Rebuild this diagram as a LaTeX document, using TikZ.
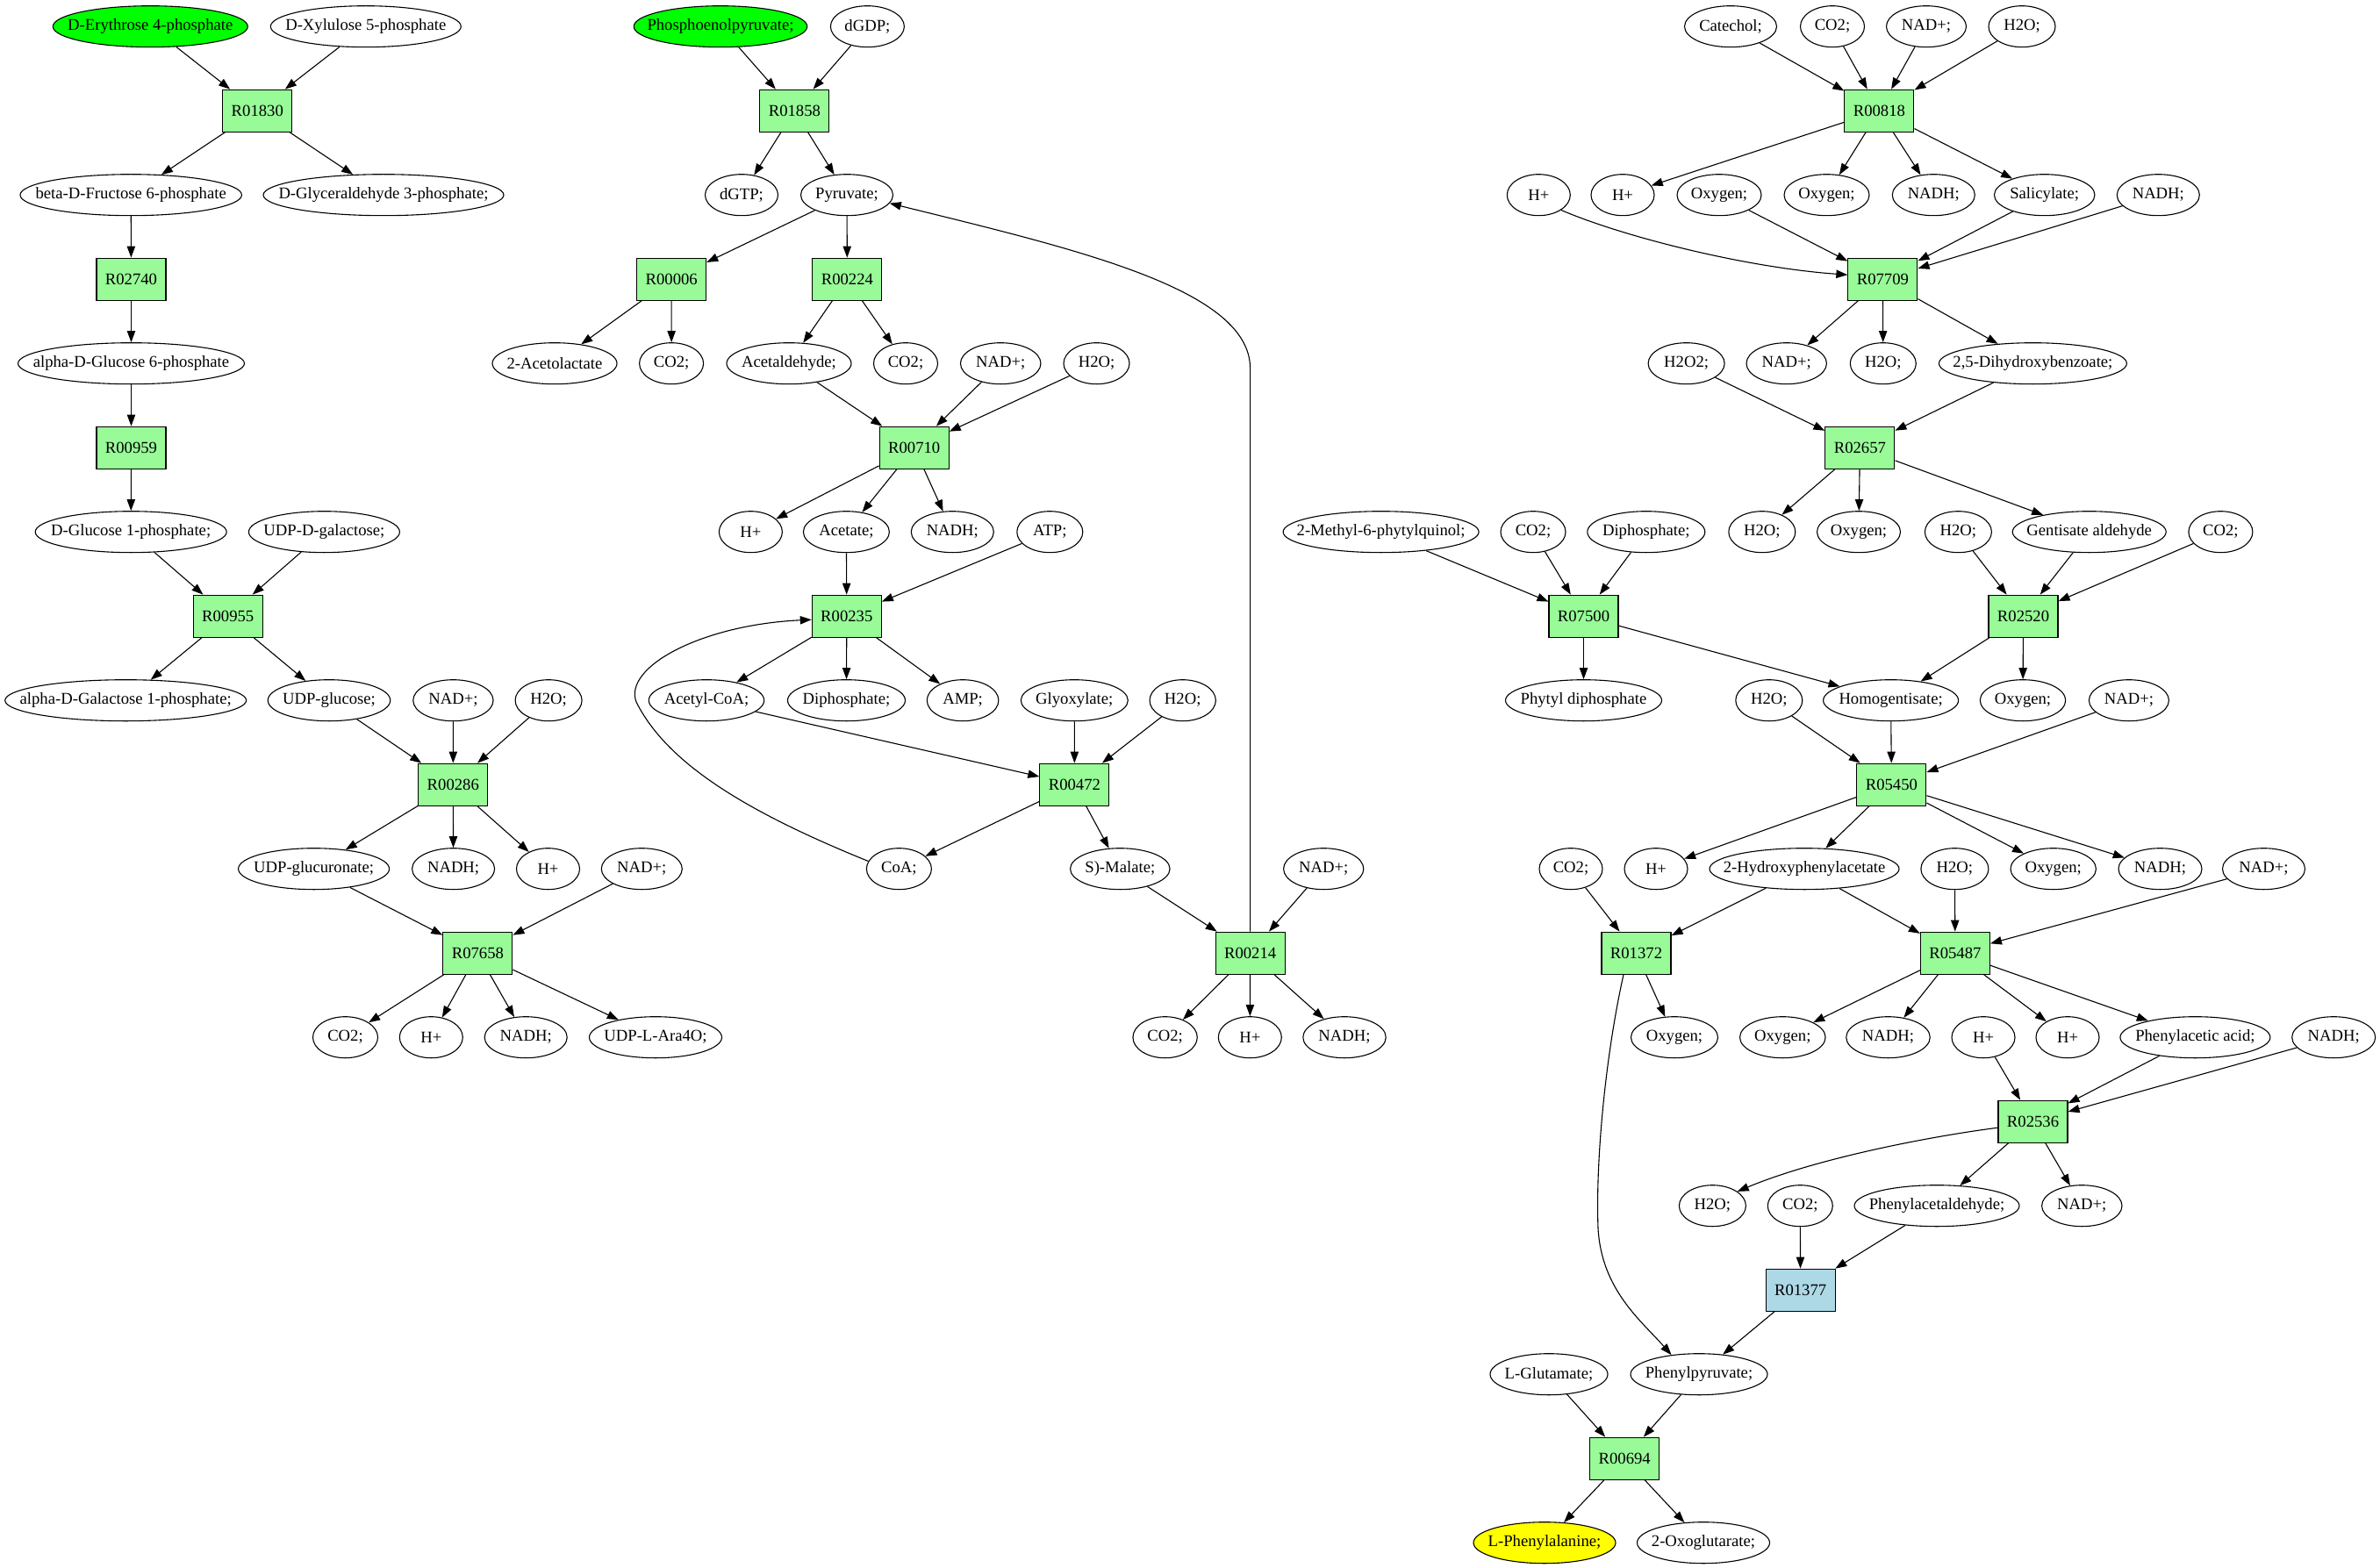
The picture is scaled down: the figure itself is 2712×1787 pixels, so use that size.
\documentclass[tikz,border=0pt]{standalone}
\usepackage{fontspec}
\setmainfont{Liberation Serif}
\usetikzlibrary{arrows.meta,shapes.geometric}
\newcommand{\zw}[1]{\makebox[0pt]{#1}}
\definecolor{rxngreen}{HTML}{98FB98}
\definecolor{srcgreen}{HTML}{00FF00}
\definecolor{tgtyellow}{HTML}{FFFF00}
\definecolor{rxnblue}{HTML}{ADD8E6}
\begin{document}
\begin{tikzpicture}[x=1pt,y=-1pt,
  font=\fontsize{18.67pt}{22pt}\selectfont,
  met/.style={ellipse,draw,line width=1.1pt,minimum height=47pt,inner sep=0pt},
  rxn/.style={rectangle,draw,line width=1.1pt,fill=rxngreen,minimum width=79pt,minimum height=48pt,inner sep=0pt},
  ar/.style={-{Triangle[length=13pt,width=9.3pt]},line width=1.1pt}]
\useasboundingbox (0,0) rectangle (2712,1787);
\fill[white] (0,0) rectangle (2712,1787);
% row 0
\node[met,minimum width=222pt,fill=srcgreen] (ery) at (171.3,30.2) {\zw{D-Erythrose 4-phosphate}};
\node[met,minimum width=217pt] (xyl) at (416.8,30.2) {\zw{D-Xylulose 5-phosphate}};
\node[met,minimum width=197.5pt,fill=srcgreen] (pep) at (821,30.2) {\zw{Phosphoenolpyruvate;}};
\node[met,minimum width=84pt] (dgdp) at (988.4,30.2) {\zw{dGDP;}};
\node[met,minimum width=105pt] (cat) at (1972,30.2) {\zw{Catechol;}};
\node[met,minimum width=73pt] (co2a) at (2088,30.2) {\zw{CO2;}};
\node[met,minimum width=91pt] (nada) at (2195,30.2) {\zw{NAD+;}};
\node[met,minimum width=76pt] (h2oa) at (2304,30.2) {\zw{H2O;}};
% row 1
\node[rxn] (R01830) at (293.3,126.2) {R01830};
\node[rxn] (R01858) at (905.4,126.2) {R01858};
\node[rxn] (R00818) at (2141.4,126.2) {R00818};
% row 2
\node[met,minimum width=252.5pt] (bfru) at (149.2,222.2) {\zw{beta-D-Fructose 6-phosphate}};
\node[met,minimum width=274pt] (gap) at (437,222.2) {\zw{D-Glyceraldehyde 3-phosphate;}};
\node[met,minimum width=83pt] (dgtp) at (845,222.2) {\zw{dGTP;}};
\node[met,minimum width=105pt] (pyr) at (965,222.2) {\zw{Pyruvate;}};
\node[met,minimum width=72pt] (hpa) at (1753.3,222.2) {\zw{H+}};
\node[met,minimum width=72pt] (hpb) at (1849,222.2) {\zw{H+}};
\node[met,minimum width=96pt] (oxa) at (1959,222.2) {\zw{Oxygen;}};
\node[met,minimum width=97pt] (oxb) at (2081.5,222.2) {\zw{Oxygen;}};
\node[met,minimum width=94pt] (nadha) at (2203.3,222.2) {\zw{NADH;}};
\node[met,minimum width=114.5pt] (sal) at (2329.7,222.2) {\zw{Salicylate;}};
\node[met,minimum width=94pt] (nadhb) at (2459.3,222.2) {\zw{NADH;}};
% row 3
\node[rxn] (R02740) at (149.5,318.2) {R02740};
\node[rxn] (R00006) at (765.2,318.2) {R00006};
\node[rxn] (R00224) at (965.4,318.2) {R00224};
\node[rxn] (R07709) at (2145.4,318.2) {R07709};
% row 4
\node[met,minimum width=258pt] (ag6p) at (149.5,414.2) {\zw{alpha-D-Glucose 6-phosphate}};
\node[met,minimum width=142pt] (acl) at (632,414.2) {\zw{2-Acetolactate}};
\node[met,minimum width=73pt] (co2b) at (765.1,414.2) {\zw{CO2;}};
\node[met,minimum width=142pt] (acald) at (899,414.2) {\zw{Acetaldehyde;}};
\node[met,minimum width=73pt] (co2c) at (1032,414.2) {\zw{CO2;}};
\node[met,minimum width=91.5pt] (nadb) at (1140.2,414.2) {\zw{NAD+;}};
\node[met,minimum width=75pt] (h2ob) at (1249.5,414.2) {\zw{H2O;}};
\node[met,minimum width=87pt] (h2o2) at (1921.6,414.2) {\zw{H2O2;}};
\node[met,minimum width=91.4pt] (nadc) at (2035.7,414.2) {\zw{NAD+;}};
\node[met,minimum width=75pt] (h2oc) at (2145.8,414.2) {\zw{H2O;}};
\node[met,minimum width=214pt] (dhb) at (2316.4,414.2) {\zw{2,5-Dihydroxybenzoate;}};
% row 5
\node[rxn] (R00959) at (149.5,510.2) {R00959};
\node[rxn] (R00710) at (1041.7,510.2) {R00710};
\node[rxn] (R02657) at (2119.4,510.2) {R02657};
% row 6
\node[met,minimum width=218pt] (g1p) at (149.2,606.2) {\zw{D-Glucose 1-phosphate;}};
\node[met,minimum width=172pt] (udpgal) at (369.4,606.2) {\zw{UDP-D-galactose;}};
\node[met,minimum width=72pt] (hpc) at (855.4,606.2) {\zw{H+}};
\node[met,minimum width=98pt] (acet) at (964.4,606.2) {\zw{Acetate;}};
\node[met,minimum width=94pt] (nadhc) at (1085.3,606.2) {\zw{NADH;}};
\node[met,minimum width=75pt] (atp) at (1196.3,606.2) {\zw{ATP;}};
\node[met,minimum width=223pt] (mpq) at (1573.6,606.2) {\zw{2-Methyl-6-phytylquinol;}};
\node[met,minimum width=74pt] (co2d) at (1747,606.2) {\zw{CO2;}};
\node[met,minimum width=134pt] (dip) at (1875.8,606.2) {\zw{Diphosphate;}};
\node[met,minimum width=76pt] (h2od) at (2007.8,606.2) {\zw{H2O;}};
\node[met,minimum width=95pt] (oxc) at (2118,606.2) {\zw{Oxygen;}};
\node[met,minimum width=76pt] (h2oe) at (2231.4,606.2) {\zw{H2O;}};
\node[met,minimum width=175pt] (gald) at (2380.7,606.2) {\zw{Gentisate aldehyde}};
\node[met,minimum width=73pt] (co2e) at (2530.4,606.2) {\zw{CO2;}};
% row 7
\node[rxn] (R00955) at (259.7,702.2) {R00955};
\node[rxn] (R00235) at (964.8,702.2) {R00235};
\node[rxn] (R07500) at (1804.5,702.2) {R07500};
\node[rxn] (R02520) at (2305.5,702.2) {R02520};
% row 8
\node[met,minimum width=275pt] (agal) at (143.2,798.2) {\zw{alpha-D-Galactose 1-phosphate;}};
\node[met,minimum width=139.5pt] (udpg) at (375,798.2) {\zw{UDP-glucose;}};
\node[met,minimum width=91.3pt] (nadd) at (516.4,798.2) {\zw{NAD+;}};
\node[met,minimum width=76pt] (h2of) at (625.1,798.2) {\zw{H2O;}};
\node[met,minimum width=131.4pt] (accoa) at (805,798.2) {\zw{Acetyl-CoA;}};
\node[met,minimum width=134pt] (dipb) at (964.5,798.2) {\zw{Diphosphate;}};
\node[met,minimum width=81.6pt] (amp) at (1097.1,798.2) {\zw{AMP;}};
\node[met,minimum width=122pt] (glyox) at (1224.3,798.2) {\zw{Glyoxylate;}};
\node[met,minimum width=75.3pt] (h2og) at (1347.7,798.2) {\zw{H2O;}};
\node[met,minimum width=178pt] (phdp) at (1804.5,798.2) {\zw{Phytyl diphosphate}};
\node[met,minimum width=76pt] (h2oh) at (2015.8,798.2) {\zw{H2O;}};
\node[met,minimum width=154pt] (hga) at (2154.6,798.2) {\zw{Homogentisate;}};
\node[met,minimum width=97.4pt] (oxd) at (2305,798.2) {\zw{Oxygen;}};
\node[met,minimum width=91pt] (nade) at (2425.9,798.2) {\zw{NAD+;}};
% row 9
\node[rxn] (R00286) at (516.3,894.2) {R00286};
\node[rxn] (R00472) at (1224.4,894.2) {R00472};
\node[rxn] (R05450) at (2155.4,894.2) {R05450};
% row 10
\node[met,minimum width=172pt] (udpgu) at (357.6,990.2) {\zw{UDP-glucuronate;}};
\node[met,minimum width=94pt] (nadhd) at (516.6,990.2) {\zw{NADH;}};
\node[met,minimum width=72pt] (hpd) at (624.5,990.2) {\zw{H+}};
\node[met,minimum width=92pt] (nadf) at (731.3,990.2) {\zw{NAD+;}};
\node[met,minimum width=74pt] (coa) at (1024.4,990.2) {\zw{CoA;}};
\node[met,minimum width=113.5pt] (mal) at (1276.3,990.2) {\zw{S)-Malate;}};
\node[met,minimum width=91.2pt] (nadg) at (1508.2,990.2) {\zw{NAD+;}};
\node[met,minimum width=72pt] (co2f) at (1790,990.2) {\zw{CO2;}};
\node[met,minimum width=72pt] (hpe) at (1887,990.2) {\zw{H+}};
\node[met,minimum width=216pt] (hpac) at (2056,990.2) {\zw{2-Hydroxyphenylacetate}};
\node[met,minimum width=77pt] (h2oi) at (2227.4,990.2) {\zw{H2O;}};
\node[met,minimum width=97.4pt] (oxe) at (2339.7,990.2) {\zw{Oxygen;}};
\node[met,minimum width=95pt] (nadhe) at (2461.5,990.2) {\zw{NADH;}};
\node[met,minimum width=94pt] (nadi) at (2579.5,990.2) {\zw{NAD+;}};
% row 11
\node[rxn] (R07658) at (544.4,1086.2) {R07658};
\node[rxn] (R00214) at (1424.6,1086.2) {R00214};
\node[rxn] (R01372) at (1864.5,1086.2) {R01372};
\node[rxn] (R05487) at (2227.9,1086.2) {R05487};
% row 12
\node[met,minimum width=74pt] (co2g) at (393.5,1182.2) {\zw{CO2;}};
\node[met,minimum width=72pt] (hpf) at (491.3,1182.2) {\zw{H+}};
\node[met,minimum width=94pt] (nadhf) at (599.2,1182.2) {\zw{NADH;}};
\node[met,minimum width=151pt] (ara) at (747,1182.2) {\zw{UDP-L-Ara4O;}};
\node[met,minimum width=73.3pt] (co2h) at (1327.6,1182.2) {\zw{CO2;}};
\node[met,minimum width=72pt] (hpg) at (1424.3,1182.2) {\zw{H+}};
\node[met,minimum width=94.4pt] (nadhg) at (1532,1182.2) {\zw{NADH;}};
\node[met,minimum width=99pt] (oxf) at (1908,1182.2) {\zw{Oxygen;}};
\node[met,minimum width=97.5pt] (oxg) at (2031.3,1182.2) {\zw{Oxygen;}};
\node[met,minimum width=95.5pt] (nadhh) at (2151.5,1182.2) {\zw{NADH;}};
\node[met,minimum width=72pt] (hph) at (2260,1182.2) {\zw{H+}};
\node[met,minimum width=72pt] (hpi) at (2356,1182.2) {\zw{H+}};
\node[met,minimum width=171pt] (paa) at (2501.4,1182.2) {\zw{Phenylacetic acid;}};
\node[met,minimum width=95pt] (nadhi) at (2659.2,1182.2) {\zw{NADH;}};
% row 13
\node[rxn] (R02536) at (2316.5,1278.2) {R02536};
% row 14
\node[met,minimum width=76pt] (h2oj) at (1951.4,1374.2) {\zw{H2O;}};
\node[met,minimum width=74pt] (co2i) at (2051.3,1374.2) {\zw{CO2;}};
\node[met,minimum width=188pt] (pald) at (2207,1374.2) {\zw{Phenylacetaldehyde;}};
\node[met,minimum width=91.4pt] (nadj) at (2372.3,1374.2) {\zw{NAD+;}};
% row 15
\node[rxn,fill=rxnblue] (R01377) at (2051.6,1470.2) {R01377};
% row 16
\node[met,minimum width=134pt] (glu) at (1765,1566.2) {\zw{L-Glutamate;}};
\node[met,minimum width=156pt] (ppy) at (1936,1566.2) {\zw{Phenylpyruvate;}};
% row 17
\node[rxn] (R00694) at (1851.2,1662.2) {R00694};
% row 18
\node[met,minimum width=162pt,fill=tgtyellow] (phe) at (1760,1758.2) {\zw{L-Phenylalanine;}};
\node[met,minimum width=151pt] (oxo) at (1941,1758.2) {\zw{2-Oxoglutarate;}};
% straight edges
\foreach \a/\b in {ery/R01830, xyl/R01830, R01830/bfru, R01830/gap,
  bfru/R02740, R02740/ag6p, ag6p/R00959, R00959/g1p,
  g1p/R00955, udpgal/R00955, R00955/agal, R00955/udpg,
  udpg/R00286, nadd/R00286, h2of/R00286, R00286/udpgu, R00286/nadhd, R00286/hpd,
  udpgu/R07658, nadf/R07658, R07658/co2g, R07658/hpf, R07658/nadhf, R07658/ara,
  pep/R01858, dgdp/R01858, R01858/dgtp, R01858/pyr,
  pyr/R00006, pyr/R00224, R00006/acl, R00006/co2b, R00224/acald, R00224/co2c,
  acald/R00710, nadb/R00710, h2ob/R00710, R00710/hpc, R00710/acet, R00710/nadhc,
  acet/R00235, atp/R00235, R00235/accoa, R00235/dipb, R00235/amp,
  accoa/R00472, glyox/R00472, h2og/R00472, R00472/coa, R00472/mal,
  mal/R00214, nadg/R00214, R00214/co2h, R00214/hpg, R00214/nadhg,
  cat/R00818, co2a/R00818, nada/R00818, h2oa/R00818,
  R00818/hpb, R00818/oxb, R00818/nadha, R00818/sal,
  oxa/R07709, sal/R07709, nadhb/R07709,
  R07709/nadc, R07709/h2oc, R07709/dhb,
  h2o2/R02657, dhb/R02657, R02657/h2od, R02657/oxc, R02657/gald,
  h2oe/R02520, gald/R02520, co2e/R02520, R02520/hga, R02520/oxd,
  mpq/R07500, co2d/R07500, dip/R07500, R07500/phdp, R07500/hga,
  h2oh/R05450, hga/R05450, nade/R05450,
  R05450/hpe, R05450/hpac, R05450/oxe, R05450/nadhe,
  co2f/R01372, hpac/R01372, R01372/oxf,
  hpac/R05487, h2oi/R05487, nadi/R05487,
  R05487/oxg, R05487/nadhh, R05487/hpi, R05487/paa,
  hph/R02536, paa/R02536, nadhi/R02536, R02536/pald, R02536/nadj,
  co2i/R01377, pald/R01377, R01377/ppy,
  glu/R00694, ppy/R00694, R00694/phe, R00694/oxo}
  \draw[ar] (\a) -- (\b);
% curved edges
\draw[ar] (hpa.-34) .. controls (1850,270) and (1990,305) .. ([yshift=5pt]R07709.west);
\draw[ar] (R00214.north) -- (1424.6,420) .. controls (1424.6,330) and (1230,285) .. (pyr.-11);
\draw[ar] (coa.166) .. controls (850,925) and (760,870) .. (725,800)
  .. controls (710,760) and (800,712) .. ([yshift=-4pt]R00235.west);
\draw[ar] ([xshift=-14.5pt]R01372.south) .. controls (1830,1200) and (1818,1320) .. (1821,1400)
  .. controls (1825,1470) and (1870,1505) .. (ppy.145);
\draw[ar] ([yshift=-7pt]R02536.west) .. controls (2200,1295) and (2070,1320) .. (h2oj.30);
\end{tikzpicture}
\end{document}
